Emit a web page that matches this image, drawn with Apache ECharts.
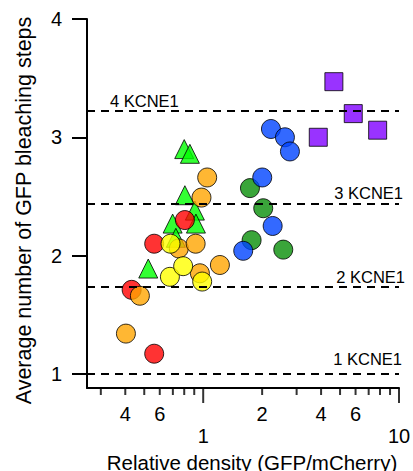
<!DOCTYPE html>
<html>
<head>
<meta charset="utf-8">
<script src="https://cdn.jsdelivr.net/npm/echarts@6/dist/echarts.min.js"></script>
<style>
    html, body { margin: 0; padding: 0; background: #fff; }
    #chart { width: 413px; height: 471px; }
</style>
</head>
<body>
<div id="chart"></div>
<script>
// relative density (x) and average bleaching steps (y) for each group
const redX = [0.431, 0.562, 0.562, 0.806]
const redY = [1.71, 1.17, 2.10, 2.30]
const orangeX = [0.403, 0.475, 0.751, 0.915, 0.98, 1.048, 0.962, 1.217]
const orangeY = [1.34, 1.66, 2.06, 2.10, 2.49, 2.66, 1.85, 1.92]
const yellowX = [0.681, 0.676, 0.79, 0.988]
const yellowY = [2.10, 1.82, 1.91, 1.78]
const triX = [0.524, 0.698, 0.725, 0.806, 0.80, 0.855, 0.907, 0.918]
const triY = [1.89, 2.27, 2.15, 2.51, 2.90, 2.86, 2.38, 2.27]
const dgreenX = [1.733, 2.026, 1.767, 2.564]
const dgreenY = [2.57, 2.40, 2.13, 2.05]
const blueX = [2.218, 2.615, 2.773, 2.002, 2.263, 1.601]
const blueY = [3.07, 3.00, 2.88, 2.66, 2.25, 2.04]
const purpleX = [3.87, 4.65, 5.84, 7.78]
const purpleY = [3.00, 3.47, 3.20, 3.06]

// reference levels
const levelNames = ['4 KCNE1', '3 KCNE1', '2 KCNE1', '1 KCNE1']
const levelValues = [3.22, 2.445, 1.74, 1.0]

// axis ticks / labels
const xMinorTicks = [0.3, 0.4, 0.5, 0.6, 0.7, 0.8, 0.9, 2, 3, 4, 5, 6, 7, 8, 9]
const xMajorTicks = [1, 10]
const xLabels = [0.4, 0.6, 1, 2, 4, 6, 10]
const yTicks = [1, 2, 3, 4]

const Y_MIN = 0.88
const FONT = 'Liberation Sans'

function zip(xs, ys) {
    return xs.map((x, i) => [x, ys[i]])
}

function scatter(name, xs, ys, color, symbol, size) {
    return {
        name: name,
        type: 'scatter',
        data: zip(xs, ys),
        symbol: symbol,
        symbolSize: size,
        itemStyle: { color: color, borderColor: '#000', borderWidth: 1 },
        emphasis: { disabled: true }
    }
}

// tick marks below the x axis, drawn as thin bars anchored on the axis
function tickSeries(values, len) {
    return {
        type: 'scatter',
        silent: true,
        clip: false,
        z: 20,
        data: values.map(v => [v, Y_MIN]),
        symbol: 'rect',
        symbolSize: [2, len],
        symbolOffset: [0, len / 2],
        itemStyle: { color: '#000', borderWidth: 0 },
        emphasis: { disabled: true }
    }
}

const myChart = echarts.init(document.getElementById('chart'), null, { renderer: 'svg' })

// label offsets per level line: [horizontal, vertical]
const levelDist = [[23, 2], [-4, 2], [-6, 1], [-3, 6]]

const options = {
    animation: false,
    grid: {
        left: 87, right: 14, top: 19, bottom: 83,
        // let the axis texts sit near the edges without shrinking the plot
        outerBounds: { left: -200, right: -200, top: -200, bottom: -200 }
    },
    xAxis: {
        type: 'log',
        logBase: 10,
        min: 0.255,
        max: 10,
        name: 'Relative density (GFP/mCherry)',
        nameLocation: 'middle',
        nameGap: 57,
        nameTextStyle: { fontFamily: FONT, fontSize: 20.5, color: '#000', padding: [0, 0, 0, 18] },
        axisLine: { show: true, onZero: false, lineStyle: { color: '#000', width: 2 } },
        axisTick: { show: false },
        axisLabel: {
            show: true,
            customValues: xLabels,
            margin: 15,
            fontFamily: FONT,
            fontSize: 20,
            lineHeight: 22,
            color: '#000',
            formatter: function (v) {
                const n = Math.round(v * 10) / 10
                if (n === 1 || n === 10) return '\n' + n
                if (n < 1) return String(Math.round(n * 10))
                return String(n)
            }
        },
        splitLine: { show: false }
    },
    yAxis: {
        type: 'value',
        min: Y_MIN,
        max: 4,
        name: 'Average number of GFP bleaching steps',
        nameLocation: 'middle',
        nameGap: 52,
        nameTextStyle: { fontFamily: FONT, fontSize: 21.5, color: '#000', padding: [0, 14, 0, 0] },
        axisLine: { show: true, onZero: false, lineStyle: { color: '#000', width: 2 } },
        axisTick: {
            show: true, inside: false, length: 15,
            customValues: yTicks,
            lineStyle: { color: '#000', width: 2 }
        },
        axisLabel: {
            customValues: yTicks,
            margin: 25,
            fontFamily: FONT,
            fontSize: 20,
            color: '#000'
        },
        splitLine: { show: false }
    },
    series: [
        scatter('tri', triX, triY, '#00ff00', 'triangle', 19),
        scatter('red', redX, redY, '#ff0000', 'circle', 19),
        scatter('orange', orangeX, orangeY, '#ffa500', 'circle', 19),
        scatter('yellow', yellowX, yellowY, '#ffff00', 'circle', 19),
        scatter('dgreen', dgreenX, dgreenY, '#098f09', 'circle', 19),
        scatter('blue', blueX, blueY, '#0044ff', 'circle', 19),
        scatter('purple', purpleX, purpleY, '#8000ff', 'rect', 18),
        tickSeries(xMinorTicks, 7),
        tickSeries(xMajorTicks, 15),
        {
            type: 'scatter',
            data: [],
            z: 10,
            markLine: {
                silent: true,
                symbol: ['none', 'none'],
                animation: false,
                lineStyle: { color: '#000', width: 2, type: [8, 6] },
                data: levelValues.map((v, i) => ({
                    yAxis: v,
                    label: {
                        show: true,
                        formatter: levelNames[i],
                        position: i === 0 ? 'insideStartTop' : 'insideEndTop',
                        distance: levelDist[i],
                        fontFamily: FONT,
                        fontSize: 16.5,
                        color: '#000'
                    }
                }))
            }
        }
    ]
}

myChart.setOption(options)
window.addEventListener('resize', myChart.resize)
</script>
</body>
</html>
